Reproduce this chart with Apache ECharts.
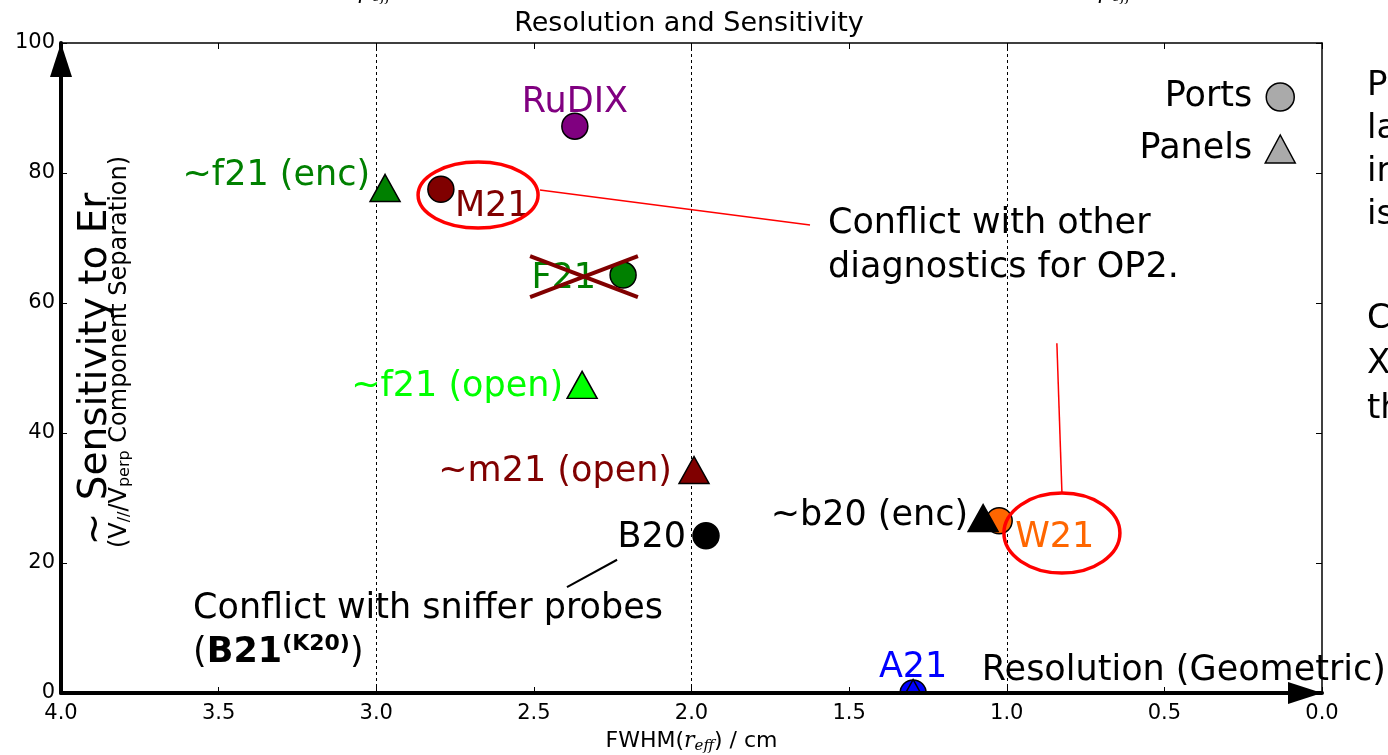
<!DOCTYPE html>
<html><head><meta charset="utf-8">
<script src="https://cdn.jsdelivr.net/npm/echarts@6/dist/echarts.min.js"></script>
<style>html,body{margin:0;padding:0;background:#fff}#c{width:1388px;height:755px}</style>
</head><body><div id="c"></div>
<script>
// ---------- data ----------
const portNames  = ['RuDIX', 'M21', 'F21', 'B20', 'W21', 'A21'];
const portX      = [2.37, 2.795, 2.217, 1.954, 1.024, 1.297];
const portY      = [87.2, 77.5, 64.3, 24.2, 26.5, 0];
const portColors = ['#800080', '#800000', '#008000', '#000000', '#ff6600', '#0000ff'];

const panelNames  = ['~f21 (enc)', '~f21 (open)', '~m21 (open)', '~b20 (enc)', 'A21'];
const panelX      = [2.972, 2.347, 1.992, 1.075, 1.297];
const panelY      = [77.7, 47.4, 34.3, 26.9, 0];
const panelColors = ['#008000', '#00ff00', '#800000', '#000000', '#0000ff'];

const refLines = [3.0, 2.0, 1.0];
const xMin = 0, xMax = 4, xStep = 0.5;
const yMin = 0, yMax = 100, yStep = 20;

// ---------- styles ----------
const FONT = 'DejaVu Sans';
const BIG = 35;
// label placement per point (pixel offsets from marker centre)
const portLabelStyle = {
  'RuDIX': {align: 'center', offset: [0, -23]},
  'M21':   {align: 'left',   offset: [14, 18]},
  'F21':   {align: 'right',  offset: [-27, 4]},
  'B20':   {align: 'right',  offset: [-20, 2]},
  'W21':   {align: 'left',   offset: [16, 17]},
  'A21':   {align: 'center', offset: [0, -25]}
};
const panelLabelStyle = {
  '~f21 (enc)':  {align: 'right', offset: [-15, -12]},
  '~f21 (open)': {align: 'right', offset: [-19, 2]},
  '~m21 (open)': {align: 'right', offset: [-22, 2]},
  '~b20 (enc)':  {align: 'right', offset: [-15, -2]},
  'A21': null
};

function mkData(names, xs, ys, colors, lblStyles) {
  return names.map((n, i) => {
    const ls = lblStyles[n];
    return {
      name: n,
      value: [xs[i], ys[i]],
      itemStyle: {color: colors[i]},
      label: ls ? {show: true, position: 'inside', align: ls.align, verticalAlign: 'middle',
                   offset: ls.offset, color: colors[i], fontSize: BIG, fontFamily: FONT,
                   formatter: n} : {show: false}
    };
  });
}

const chart = echarts.init(document.getElementById('c'), null, {renderer: 'canvas'});

const axisCommon = {
  type: 'value', splitLine: {show: false},
  axisTick: {show: true, inside: true, length: 6, lineStyle: {color: '#000', width: 1}}
};

chart.setOption({
  backgroundColor: '#fff',
  animation: false,
  textStyle: {fontFamily: FONT},
  title: {
    text: 'Resolution and Sensitivity', left: 684, top: 5, textAlign: 'center',
    textStyle: {fontSize: 27, fontWeight: 'normal', color: '#000', fontFamily: FONT}
  },
  grid: {left: 61, right: 66, top: 43, bottom: 62, outerBoundsMode: 'none', containLabel: false},
  legend: {
    orient: 'vertical', right: 87, top: 74, align: 'right',
    itemWidth: 30, itemHeight: 28, itemGap: 16,
    textStyle: {fontSize: BIG, color: '#000', fontFamily: FONT, lineHeight: 36, padding: [0, 8, 0, 0]},
    data: [
      {name: 'Ports', icon: 'circle', itemStyle: {color: '#aaaaaa', borderColor: '#000', borderWidth: 1.5}},
      {name: 'Panels', icon: 'triangle', itemStyle: {color: '#aaaaaa', borderColor: '#000', borderWidth: 1.5}}
    ]
  },
  xAxis: [
    Object.assign({}, axisCommon, {
      min: xMin, max: xMax, interval: xStep, inverse: true, position: 'bottom', z: 10,
      axisLine: {show: true, onZero: false, lineStyle: {color: '#000', width: 4}},
      axisLabel: {fontSize: 21, color: '#000', fontFamily: FONT, margin: 10,
                  formatter: v => v.toFixed(1)},
      name: '{n|FWHM(}{i|r}{s|eff}{n|) / cm}', nameLocation: 'middle', nameGap: 36,
      nameTextStyle: {rich: {
        n: {fontSize: 22, color: '#000', fontFamily: FONT},
        i: {fontSize: 22, color: '#000', fontFamily: 'DejaVu Serif', fontStyle: 'italic'},
        s: {fontSize: 15, color: '#000', fontFamily: 'DejaVu Serif', fontStyle: 'italic', padding: [10, 0, 0, 0]}
      }}
    }),
    Object.assign({}, axisCommon, {
      min: xMin, max: xMax, interval: xStep, inverse: true, position: 'top',
      axisLine: {show: true, onZero: false, lineStyle: {color: '#000', width: 1.5}},
      axisLabel: {show: false}
    })
  ],
  yAxis: [
    Object.assign({}, axisCommon, {
      min: yMin, max: yMax, interval: yStep, position: 'left', z: 10,
      axisLine: {show: true, onZero: false, lineStyle: {color: '#000', width: 4}},
      axisLabel: {fontSize: 21, color: '#000', fontFamily: FONT, margin: 6}
    }),
    Object.assign({}, axisCommon, {
      min: yMin, max: yMax, interval: yStep, position: 'right',
      axisLine: {show: true, onZero: false, lineStyle: {color: '#000', width: 1.5}},
      axisLabel: {show: false}
    })
  ],
  series: [
    {
      name: 'Ports', type: 'scatter', symbol: 'circle', symbolSize: 26, z: 3,
      itemStyle: {color: '#aaaaaa', borderColor: '#000', borderWidth: 1.5, opacity: 1},
      data: mkData(portNames, portX, portY, portColors, portLabelStyle),
      markLine: {
        silent: true, symbol: 'none', label: {show: false}, z: 1,
        lineStyle: {color: '#000', width: 1, type: [3, 3]},
        data: refLines.map(v => ({xAxis: v}))
      }
    },
    {
      name: 'Panels', type: 'scatter', symbol: 'triangle', symbolSize: [30, 27], z: 4,
      itemStyle: {color: '#aaaaaa', borderColor: '#000', borderWidth: 1.5, opacity: 1},
      data: mkData(panelNames, panelX, panelY, panelColors, panelLabelStyle)
    }
  ]
});

// ---------- annotations (data coordinates) ----------
const ann = {
  m21Ellipse: [2.677, 76.6],
  m21LineA: [2.481, 77.4], m21LineB: [1.624, 72.0],
  conflictText: [1.567, 72.5],
  crossA: [2.512, 67.2], crossB: [2.170, 60.9], crossC: [2.512, 60.9], crossD: [2.170, 67.2],
  b20LineA: [2.395, 16.3], b20LineB: [2.236, 20.5],
  snifferText: [3.581, 13.4],
  w21Ellipse: [0.825, 24.6],
  w21LineA: [0.841, 53.8], w21LineB: [0.825, 30.9],
  resText: [1.079, 3.8]
};
const P = d => chart.convertToPixel({gridIndex: 0}, d);
const g = [];
const red = '#ff0000';
function line(a, b, color, w) {
  const pa = P(a), pb = P(b);
  g.push({type: 'line', z: 20, shape: {x1: pa[0], y1: pa[1], x2: pb[0], y2: pb[1]},
          style: {stroke: color, lineWidth: w}});
}
function ellipse(c, rx, ry) {
  const p = P(c);
  g.push({type: 'ellipse', z: 20, shape: {cx: p[0], cy: p[1], rx: rx, ry: ry},
          style: {fill: 'none', stroke: red, lineWidth: 3.5}});
}
ellipse(ann.m21Ellipse, 60, 33);
line(ann.m21LineA, ann.m21LineB, red, 1.5);
(function () {
  const p = P(ann.conflictText);
  g.push({type: 'text', z: 25, x: p[0], y: p[1] - 20, style: {
    text: 'Conflict with other\ndiagnostics for OP2.', fill: '#000', fontSize: BIG, fontFamily: FONT,
    lineHeight: 44, textAlign: 'left', textVerticalAlign: 'top'}});
})();
line(ann.crossA, ann.crossB, '#800000', 4);
line(ann.crossC, ann.crossD, '#800000', 4);
line(ann.b20LineA, ann.b20LineB, '#000', 2);
(function () {
  const p = P(ann.snifferText);
  g.push({type: 'text', z: 25, x: p[0], y: p[1] - 19, style: {
    text: '{n|Conflict with sniffer probes}\n{n|(}{b|B21}{sup|(K20)}{n|)}',
    fill: '#000', fontFamily: FONT, textAlign: 'left', textVerticalAlign: 'top',
    rich: {
      n: {fontSize: BIG, fontFamily: FONT, lineHeight: 44, fill: '#000'},
      b: {fontSize: BIG, fontFamily: FONT, fontWeight: 'bold', lineHeight: 44, fill: '#000'},
      sup: {fontSize: 22, fontFamily: FONT, fontWeight: 'bold', lineHeight: 44, fill: '#000', padding: [0, 0, 18, 0]}
    }}});
})();
ellipse(ann.w21Ellipse, 58, 40);
line(ann.w21LineA, ann.w21LineB, red, 1.5);
(function () {
  const p = P(ann.resText);
  g.push({type: 'text', z: 25, x: p[0], y: p[1] + 3, style: {
    text: 'Resolution (Geometric)', fill: '#000', fontSize: BIG, fontFamily: FONT,
    textAlign: 'left', textVerticalAlign: 'middle'}});
})();

// white strip hiding the part of markers below the x axis (clip)
(function () {
  const a = P([xMax, yMin]), b = P([xMin, yMin]);
  g.push({type: 'rect', z: 5, shape: {x: a[0] + 3, y: a[1] + 2, width: b[0] - a[0] - 6, height: 16},
          style: {fill: '#fff'}});
})();

// axis arrows (x axis is inverted: its end is at xMin, on the right)
const xe = P([xMin, yMin]), ye = P([xMax, yMax]);
g.push({type: 'polygon', z: 30, shape: {points: [[xe[0], xe[1]], [xe[0] - 34, xe[1] - 11], [xe[0] - 34, xe[1] + 11]]}, style: {fill: '#000'}});
g.push({type: 'polygon', z: 30, shape: {points: [[ye[0], ye[1]], [ye[0] - 11, ye[1] + 34], [ye[0] + 11, ye[1] + 34]]}, style: {fill: '#000'}});

// y-axis label (rotated)
g.push({type: 'text', z: 25, x: 96, y: 369, rotation: Math.PI / 2, style: {
  text: '~ Sensitivity to Er', fill: '#000', fontSize: 39, fontFamily: FONT,
  textAlign: 'center', textVerticalAlign: 'middle'}});
g.push({type: 'text', z: 25, x: 120, y: 352, rotation: Math.PI / 2, style: {
  text: '{n|(V}{s|//}{n|/V}{s|perp}{n| Component Separation)}', fill: '#000', fontFamily: FONT,
  textAlign: 'center', textVerticalAlign: 'middle',
  rich: {n: {fontSize: 24, fontFamily: FONT, fill: '#000', lineHeight: 30},
         s: {fontSize: 16, fontFamily: FONT, fill: '#000', lineHeight: 30, padding: [10, 0, 0, 0]}}}});

// cut-off labels at the top edge
[375, 1115].forEach(x => g.push({type: 'text', z: 25, x: x, y: -8, style: {
  text: '{r|ρ}{s|eff}', textAlign: 'center', textVerticalAlign: 'middle', fill: '#000',
  rich: {r: {fontSize: 22, fontFamily: 'DejaVu Serif', fontStyle: 'italic', fill: '#000'},
         s: {fontSize: 15, fontFamily: 'DejaVu Serif', fontStyle: 'italic', fill: '#000', padding: [10, 0, 0, 0]}}}}));

// cut-off side text at the right edge
g.push({type: 'text', z: 25, x: 1367, y: 65, style: {
  text: 'Ports are\nlarger\nin size\nis', fill: '#000', fontSize: 34, fontFamily: FONT,
  lineHeight: 43, textAlign: 'left', textVerticalAlign: 'top'}});
g.push({type: 'text', z: 25, x: 1367, y: 297, style: {
  text: 'Could\nX-ray\nthe', fill: '#000', fontSize: 34, fontFamily: FONT,
  lineHeight: 45, textAlign: 'left', textVerticalAlign: 'top'}});

chart.setOption({graphic: g});
</script></body></html>
